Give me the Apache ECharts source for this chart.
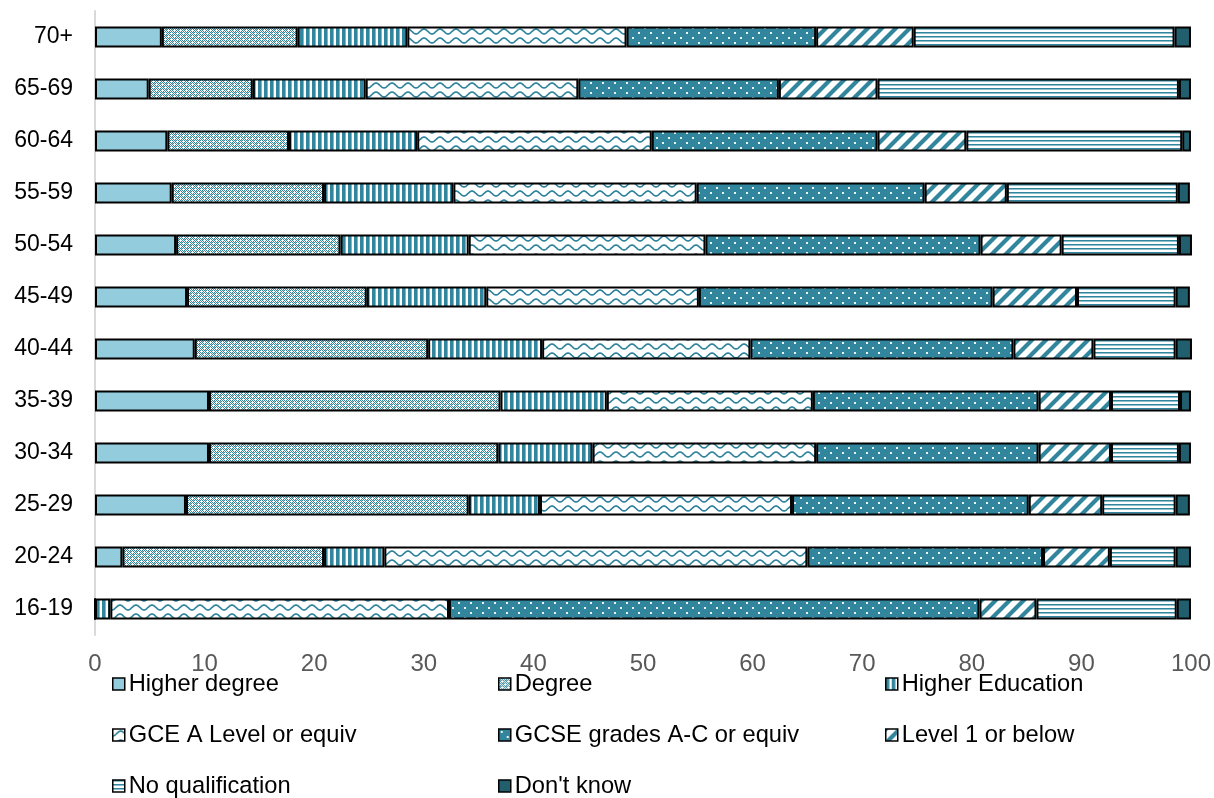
<!DOCTYPE html>
<html>
<head>
<meta charset="utf-8">
<script src="https://cdn.jsdelivr.net/npm/echarts@6/dist/echarts.min.js"></script>
<style>
  html, body { margin: 0; padding: 0; background: #fff; }
  #chart { width: 1214px; height: 798px; }
</style>
</head>
<body>
<div id="chart"></div>
<script>
// Age bands, top to bottom
const categories = ['70+', '65-69', '60-64', '55-59', '50-54', '45-49', '40-44', '35-39', '30-34', '25-29', '20-24', '16-19'];

// Highest qualification held, % of each age band
const higherDegree    = [6.1, 4.9, 6.6, 7.0, 7.4, 8.4, 9.1, 10.4, 10.4, 8.3, 2.5, 0];
const degree          = [12.4, 9.5, 11.1, 13.9, 15.0, 16.4, 21.3, 26.6, 26.4, 25.8, 18.4, 0];
const higherEducation = [10.0, 10.3, 11.7, 11.8, 11.7, 10.9, 10.4, 9.7, 8.6, 6.5, 5.5, 1.4];
const gceALevel       = [20.0, 19.4, 21.4, 22.2, 21.6, 19.4, 19.0, 18.8, 20.4, 23.0, 38.6, 30.9];
const gcse            = [17.3, 18.3, 20.6, 20.8, 25.1, 26.8, 24.0, 20.6, 20.3, 21.6, 21.5, 48.4];
const level1          = [8.9, 9.0, 8.1, 7.5, 7.4, 7.7, 7.3, 6.6, 6.6, 6.7, 6.1, 5.2];
const noQualification = [23.8, 27.5, 19.7, 15.6, 10.7, 9.0, 7.5, 6.3, 6.2, 6.7, 6.0, 12.8];
const dontKnow        = [1.5, 1.1, 0.8, 1.1, 1.2, 1.3, 1.5, 1.0, 1.1, 1.3, 1.4, 1.3];

const seriesNames = ['Higher degree', 'Degree', 'Higher Education', 'GCE A Level or equiv',
  'GCSE grades A-C or equiv', 'Level 1 or below', 'No qualification', "Don't know"];
const seriesValues = [higherDegree, degree, higherEducation, gceALevel, gcse, level1, noQualification, dontKnow];

const TEAL = '#31859C';
const LIGHT = '#93CDDD';
const DARK = '#215E6E';

// Small repeating tiles used as fill patterns
function tile(w, h, draw) {
  const c = document.createElement('canvas');
  c.width = w; c.height = h;
  const g = c.getContext('2d');
  g.fillStyle = '#fff';
  g.fillRect(0, 0, w, h);
  draw(g, w, h);
  return { image: c, repeat: 'repeat' };
}

const fills = [
  LIGHT,
  // fine teal lattice
  tile(6, 6, (g) => {
    g.fillStyle = TEAL;
    for (let y = 0; y < 6; y++) for (let x = 0; x < 6; x++) {
      if ((x + y) % 2 === 0) g.fillRect(x, y, 1, 1);
    }
    g.fillStyle = 'rgba(49,133,155,0.55)';
    g.fillRect(1, 2, 1, 1); g.fillRect(4, 5, 1, 1);
    g.fillStyle = '#fff';
    g.fillRect(0, 0, 1, 1); g.fillRect(3, 3, 1, 1);
  }),
  // vertical stripes
  tile(6, 1, (g) => {
    g.fillStyle = TEAL; g.fillRect(0, 0, 3, 1);
    g.fillStyle = '#7FB6C5'; g.fillRect(3, 0, 1, 1);
  }),
  // waves
  tile(16, 9, (g) => {
    g.strokeStyle = TEAL; g.lineWidth = 1.7;
    g.beginPath();
    for (let x = -1; x <= 17; x += 0.5) {
      const y = 4.5 + 2.4 * Math.cos(2 * Math.PI * x / 16);
      if (x === -1) g.moveTo(x, y); else g.lineTo(x, y);
    }
    g.stroke();
  }),
  // teal with white dots
  tile(12, 10, (g) => {
    g.fillStyle = TEAL; g.fillRect(0, 0, 12, 10);
    g.fillStyle = 'rgba(255,255,255,0.9)';
    g.fillRect(2, 2, 2, 2);
    g.fillRect(8, 7, 2, 2);
  }),
  // wide upward diagonal
  tile(14, 14, (g) => {
    g.strokeStyle = TEAL; g.lineWidth = 4.2;
    g.beginPath();
    g.moveTo(-4, 18); g.lineTo(18, -4);
    g.moveTo(-4, 4); g.lineTo(4, -4);
    g.moveTo(10, 18); g.lineTo(18, 10);
    g.stroke();
  }),
  // horizontal stripes
  tile(1, 4, (g) => {
    g.fillStyle = TEAL; g.fillRect(0, 0, 1, 1);
    g.fillStyle = '#8FBFCC'; g.fillRect(0, 1, 1, 1);
  }),
  DARK
];

const FONT = '"Liberation Sans", Arial, sans-serif';

const series = seriesNames.map((name, i) => ({
  name,
  type: 'bar',
  stack: 'total',
  barWidth: 21,
  data: seriesValues[i],
  itemStyle: { color: fills[i], borderColor: '#000', borderWidth: 2 },
  emphasis: { disabled: true }
}));

// Legend laid out on a 3-column grid, one entry per legend component
const legendCols = [112, 498, 885];
const legendRows = [672, 723, 774];
const legends = seriesNames.map((name, i) => ({
  data: [name],
  left: legendCols[i % 3],
  top: legendRows[Math.floor(i / 3)],
  padding: 0,
  itemWidth: 12, itemHeight: 12,
  icon: 'rect',
  selectedMode: false,
  itemStyle: { borderColor: '#000', borderWidth: 1.5 },
  textStyle: { fontFamily: FONT, fontSize: 23.7, color: '#000', lineHeight: 24, padding: [0, 0, 0, -1] }
}));

const chart = echarts.init(document.getElementById('chart'), null, { renderer: 'canvas' });
chart.setOption({
  animation: false,
  backgroundColor: '#fff',
  grid: { left: 95, right: 23, top: 11, bottom: 163, containLabel: false },
  xAxis: {
    type: 'value', min: 0, max: 100, interval: 10,
    axisLine: { show: false }, axisTick: { show: false }, splitLine: { show: false },
    axisLabel: { fontFamily: FONT, fontSize: 24, color: '#595959', margin: 17 }
  },
  yAxis: {
    type: 'category', data: categories, inverse: true,
    axisLine: { show: true, lineStyle: { color: '#D9D9D9', width: 2 } },
    axisTick: { show: false },
    axisLabel: { fontFamily: FONT, fontSize: 23, color: '#000', margin: 22 }
  },
  legend: legends,
  series
});
</script>
</body>
</html>
